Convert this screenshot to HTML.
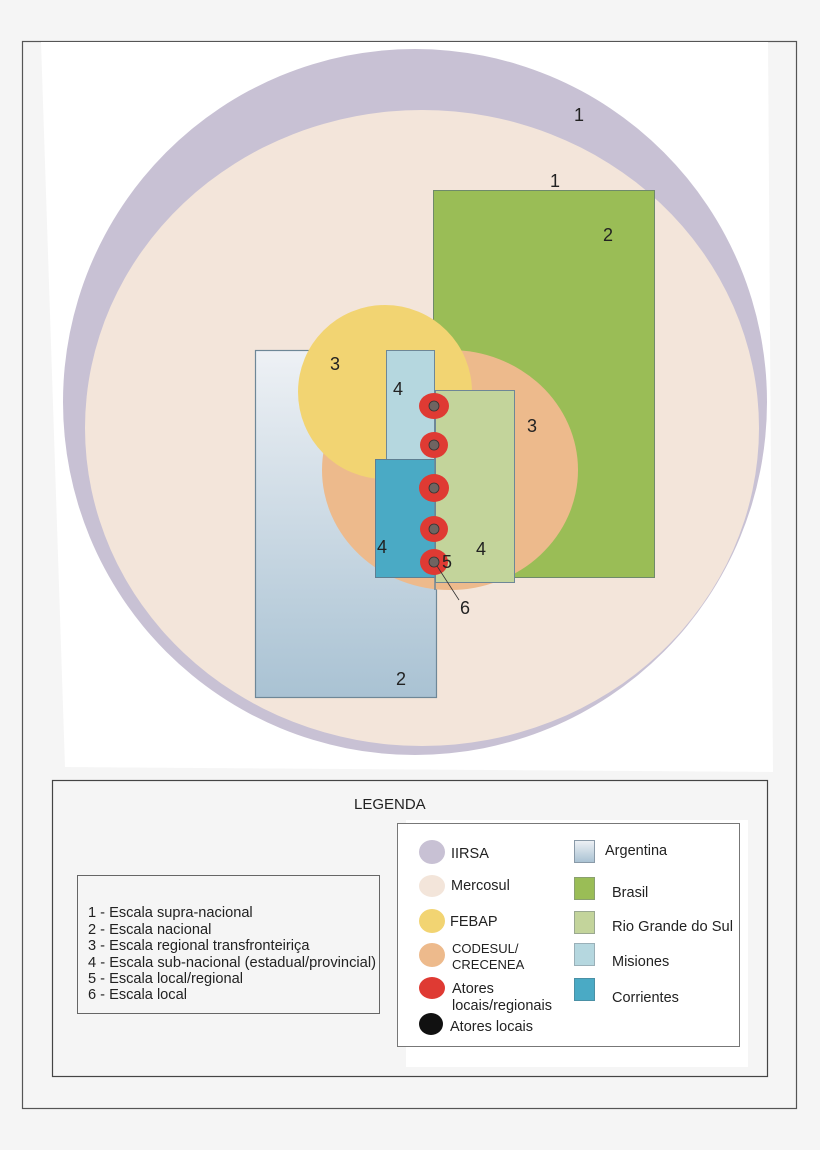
<!DOCTYPE html>
<html><head><meta charset="utf-8"><style>
html,body{margin:0;padding:0;background:#f5f5f5;}
svg{display:block;font-family:"Liberation Sans",Arial,sans-serif;}
</style></head><body>
<svg width="820" height="1150" viewBox="0 0 820 1150" xmlns="http://www.w3.org/2000/svg">
<defs>
<linearGradient id="arg" x1="0" y1="0" x2="0" y2="1">
<stop offset="0" stop-color="#eef1f5"/><stop offset="1" stop-color="#a9c2d3"/>
</linearGradient>
</defs>
<rect width="820" height="1150" fill="#f5f5f5"/>
<rect x="22.5" y="41.5" width="774" height="1067" fill="#f5f5f5" stroke="#555" stroke-width="1.2"/>
<polygon points="41,42 768,42 773,772 65,767" fill="#fff"/>
<ellipse cx="415" cy="402" rx="352" ry="353" fill="#c8c1d4"/>
<ellipse cx="422" cy="428" rx="337" ry="318" fill="#f3e5da"/>
<rect x="433.5" y="190.5" width="221" height="387" fill="#9abd56" stroke="#6f8a6a" stroke-width="1"/>
<rect x="255.5" y="350.5" width="181" height="347" fill="url(#arg)" stroke="#6e8797" stroke-width="1.2"/>
<ellipse cx="450" cy="470" rx="128" ry="120" fill="#edba8c"/>
<circle cx="385" cy="392" r="87" fill="#f2d472"/>
<rect x="386.5" y="350.5" width="48" height="110" fill="#b5d7df" stroke="#6e8797" stroke-width="1"/>
<rect x="435.5" y="390.5" width="79" height="192" fill="#c3d49b" stroke="#6e8797" stroke-width="1"/>
<rect x="375.5" y="459.5" width="60" height="118" fill="#4aaac5" stroke="#5e7f92" stroke-width="1"/>
<line x1="435" y1="390" x2="435" y2="590" stroke="#6e8797" stroke-width="1.5"/>
<g fill="#df3a33">
<ellipse cx="434" cy="406" rx="15" ry="13"/>
<ellipse cx="434" cy="445" rx="14" ry="13"/>
<ellipse cx="434" cy="488" rx="15" ry="14"/>
<ellipse cx="434" cy="529" rx="14" ry="13"/>
<ellipse cx="434" cy="562" rx="14" ry="13"/>
</g>
<g fill="#6f6461" stroke="#333" stroke-width="0.8">
<circle cx="434" cy="406" r="5"/><circle cx="434" cy="445" r="5"/><circle cx="434" cy="488" r="5"/><circle cx="434" cy="529" r="5"/><circle cx="434" cy="562" r="5"/>
</g>
<line x1="437" y1="566" x2="459" y2="600" stroke="#333" stroke-width="0.8"/>
<g font-size="18" fill="#222">
<text x="574" y="121">1</text>
<text x="550" y="187">1</text>
<text x="603" y="241">2</text>
<text x="330" y="370">3</text>
<text x="393" y="395">4</text>
<text x="527" y="432">3</text>
<text x="377" y="553">4</text>
<text x="476" y="555">4</text>
<text x="442" y="568">5</text>
<text x="460" y="614">6</text>
<text x="396" y="685">2</text>
</g>
<rect x="52.5" y="780.5" width="715" height="296" fill="#f5f5f5" stroke="#444" stroke-width="1.2"/>
<text x="354" y="809" font-size="15" fill="#222">LEGENDA</text>
<rect x="77.5" y="875.5" width="302" height="138" fill="#f5f5f5" stroke="#666" stroke-width="1"/>
<g font-size="14.6" fill="#222">
<text x="88" y="917">1 - Escala supra-nacional</text>
<text x="88" y="934">2 - Escala nacional</text>
<text x="88" y="950">3 - Escala regional transfronteiriça</text>
<text x="88" y="967" textLength="288" lengthAdjust="spacingAndGlyphs">4 - Escala sub-nacional (estadual/provincial)</text>
<text x="88" y="983">5 - Escala local/regional</text>
<text x="88" y="999">6 - Escala local</text>
</g>
<rect x="406" y="820" width="342" height="247" fill="#fff"/>
<rect x="397.5" y="823.5" width="342" height="223" fill="#fff" stroke="#777" stroke-width="1"/>
<ellipse cx="432" cy="852" rx="13" ry="12" fill="#c8c1d4"/>
<ellipse cx="432" cy="886" rx="13" ry="11" fill="#f3e5da"/>
<ellipse cx="432" cy="921" rx="13" ry="12" fill="#f2d472"/>
<ellipse cx="432" cy="955" rx="13" ry="12" fill="#edba8c"/>
<ellipse cx="432" cy="988" rx="13" ry="11" fill="#df3a33"/>
<ellipse cx="431" cy="1024" rx="12" ry="11" fill="#111"/>
<g font-size="14.5" fill="#222">
<text x="451" y="858">IIRSA</text>
<text x="451" y="890">Mercosul</text>
<text x="450" y="926">FEBAP</text>
<text x="452" y="953" font-size="13">CODESUL/</text>
<text x="452" y="969" font-size="13">CRECENEA</text>
<text x="452" y="993">Atores</text>
<text x="452" y="1010">locais/regionais</text>
<text x="450" y="1031">Atores locais</text>
</g>
<rect x="574.5" y="840.5" width="20" height="22" fill="url(#arg)" stroke="#8a9aa8"/>
<rect x="574.5" y="877.5" width="20" height="22" fill="#9abd56" stroke="#8aa070"/>
<rect x="574.5" y="911.5" width="20" height="22" fill="#c3d49b" stroke="#9aa890"/>
<rect x="574.5" y="943.5" width="20" height="22" fill="#b5d7df" stroke="#9ab0b8"/>
<rect x="574.5" y="978.5" width="20" height="22" fill="#4aaac5" stroke="#4a90a5"/>
<g font-size="14.5" fill="#222">
<text x="605" y="855">Argentina</text>
<text x="612" y="897">Brasil</text>
<text x="612" y="931" textLength="121" lengthAdjust="spacingAndGlyphs">Rio Grande do Sul</text>
<text x="612" y="966">Misiones</text>
<text x="612" y="1002">Corrientes</text>
</g>
</svg>
</body></html>
